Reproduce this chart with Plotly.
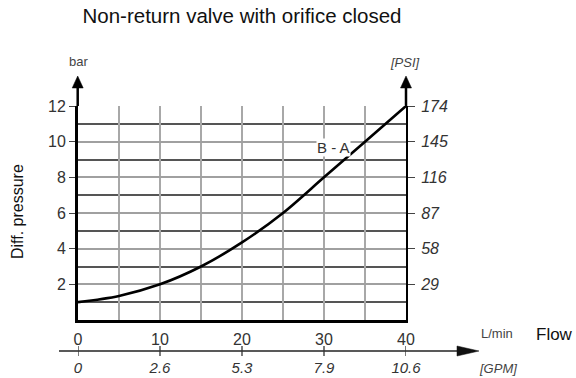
import plotly.graph_objects as go

# ---- data ----
flow_lpm = [0, 5, 10, 15, 20, 25, 30, 35, 40]
dp_bar = [1.0, 1.35, 2.0, 3.0, 4.35, 6.0, 8.0, 10.0, 12.0]
curve_label = "B - A"

bar_ticks = [2, 4, 6, 8, 10, 12]
psi_ticks = [29, 58, 87, 116, 145, 174]
psi_labels = ["29", "58", "87", "116", "145", "174"]
x_grid = [0, 5, 10, 15, 20, 25, 30, 35, 40]
x_labels = ["0", "", "10", "", "20", "", "30", "", "40"]
gpm_pos = [0, 10, 20, 30, 40]
gpm_labels = ["0", "2.6", "5.3", "7.9", "10.6"]

title = "Non-return valve with orifice closed"
y_title = "Diff. pressure"
x_title = "Flow"

# ---- geometry (pixels) ----
FW, FH = 576, 378
L, R, T, B = 78, 170, 106, 27
W = FW - L - R
H = FH - T - B
AXIS_Y = 320  # pixel row of x axis
dom0 = (FH - B - AXIS_Y) / H

def px(x):
    return (x - L) / W

def py(y):
    return (FH - B - y) / H

FONT = "Liberation Sans, Arial, sans-serif"
TXT = "#222222"

fig = go.Figure()
fig.add_trace(go.Scatter(x=flow_lpm, y=dp_bar, mode="lines",
                         line=dict(color="black", width=2.6, shape="spline", smoothing=0.9),
                         hoverinfo="skip", showlegend=False))
# helper traces so that secondary axes exist
fig.add_trace(go.Scatter(x=[0, 40], y=[0, 174], yaxis="y2", mode="lines",
                         line=dict(width=0, color="rgba(0,0,0,0)"), hoverinfo="skip", showlegend=False))
fig.add_trace(go.Scatter(x=[0, 40], y=[0, 0], xaxis="x2", mode="lines",
                         line=dict(width=0, color="rgba(0,0,0,0)"), hoverinfo="skip", showlegend=False))

fig.update_layout(
    width=FW, height=FH,
    margin=dict(l=L, r=R, t=T, b=B, pad=0),
    paper_bgcolor="white", plot_bgcolor="white",
    font=dict(family=FONT, color=TXT, size=14),
    title=dict(text=title, x=242 / FW, xref="container", xanchor="center",
               y=1 - 16 / FH, yref="container", yanchor="middle",
               font=dict(size=20.5, color="#111111", family=FONT)),
    xaxis=dict(range=[0, 40], tickmode="array", tickvals=x_grid, ticktext=x_labels,
               showgrid=True, gridcolor="#a8a8a8", gridwidth=1.5,
               showline=True, linecolor="black", linewidth=3,
               ticks="", zeroline=False, automargin=False,
               tickfont=dict(size=16, color="#333333"), ticklabelstandoff=3,
               anchor="y"),
    xaxis2=dict(range=[0, 40], overlaying="x", anchor="free", position=0,
                tickmode="array", tickvals=gpm_pos, ticktext=gpm_labels,
                showgrid=False, showline=False, ticks="", zeroline=False, automargin=False,
                tickfont=dict(size=15, color="#333333", style="italic"), ticklabelstandoff=6),
    yaxis=dict(range=[0, 12], domain=[dom0, 1], tickmode="array", tickvals=bar_ticks,
               showgrid=True, gridcolor="#a0a0a0", gridwidth=1.8,
               minor=dict(dtick=1, tick0=0, showgrid=True, gridcolor="#555555", gridwidth=1.8, ticks=""),
               showline=True, linecolor="black", linewidth=3,
               ticks="outside", ticklen=6, tickwidth=1.2, tickcolor="#444444",
               zeroline=False, automargin=False,
               tickfont=dict(size=16, color="#333333")),
    yaxis2=dict(range=[0, 174], overlaying="y", side="right", anchor="x",
                tickmode="array", tickvals=psi_ticks, ticktext=psi_labels,
                showgrid=False, showline=True, linecolor="black", linewidth=2,
                ticks="outside", ticklen=7, tickwidth=1.2, tickcolor="#444444",
                zeroline=False, automargin=False, ticklabelstandoff=3,
                tickfont=dict(size=16, color="#333333", style="italic")),
)

shapes = []
# vertical axis extensions + arrowheads
for xp in (77.7, 406):
    shapes.append(dict(type="line", xref="paper", yref="paper",
                       x0=px(xp), x1=px(xp), y0=1, y1=py(86), line=dict(color="black", width=2.5)))
    shapes.append(dict(type="path", xref="paper", yref="paper",
                       path=f"M {px(xp-5.5)} {py(88)} L {px(xp+5.5)} {py(88)} L {px(xp)} {py(76)} Z",
                       fillcolor="black", line=dict(color="black", width=0.5)))
# GPM axis line + arrow
gy = 351
shapes.append(dict(type="line", xref="paper", yref="paper",
                   x0=px(59), x1=px(460), y0=py(gy), y1=py(gy), line=dict(color="#222222", width=1.5)))
shapes.append(dict(type="path", xref="paper", yref="paper",
                   path=f"M {px(457)} {py(gy-5)} L {px(457)} {py(gy+5)} L {px(479)} {py(gy)} Z",
                   fillcolor="#111111", line=dict(color="#111111", width=0.5)))
for g in gpm_pos:
    shapes.append(dict(type="line", xref="x", yref="paper", x0=g, x1=g,
                       y0=py(gy - 5), y1=py(gy + 5), line=dict(color="#333333", width=1.3)))
fig.update_layout(shapes=shapes)

def note(text, x, y, size, color="#444444", style="normal", xanchor="center", angle=0):
    return dict(text=text, x=px(x), y=py(y), xref="paper", yref="paper", showarrow=False,
                xanchor=xanchor, yanchor="middle", textangle=angle,
                font=dict(size=size, color=color, style=style))

ann = [
    dict(text=curve_label, x=31.1, y=9.65, xref="x", yref="y", showarrow=False,
         xanchor="center", yanchor="middle",
         font=dict(size=15, color="#333333"), bgcolor="white", borderpad=0),
    note("bar", 78, 61, 13),
    note("[PSI]", 405, 62, 13, style="italic"),
    note("L/min", 497, 333, 13),
    note("[GPM]", 498, 368, 13, style="italic"),
    note(x_title, 534, 334, 17, color="#111111", xanchor="left"),
    note(y_title, 17, 212, 16, color="#111111", angle=-90),
]
fig.update_layout(annotations=ann)

fig.write_html("out.html", config={"displayModeBar": False},
               post_script="document.body.style.margin='0';")
